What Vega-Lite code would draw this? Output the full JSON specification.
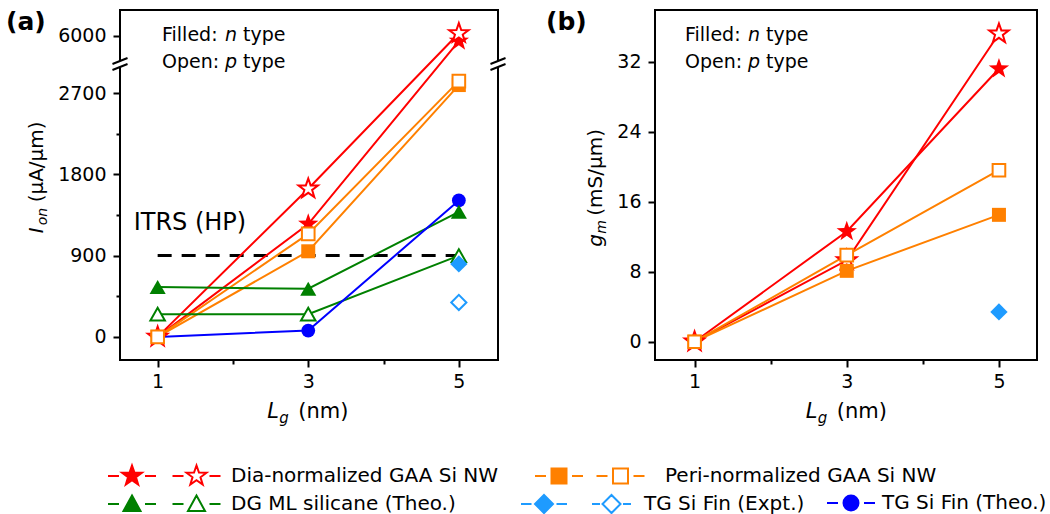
{
  "$schema": "https://vega.github.io/schema/vega-lite/v6.json",
  "padding": {"left": 5, "top": 9, "right": 0, "bottom": 0},
  "spacing": 37,
  "config": {
    "font": "DejaVu Sans",
    "view": {"stroke": "black", "strokeWidth": 2},
    "axis": {"grid": false, "domain": false, "tickWidth": 2, "tickColor": "black", "labelFontSize": 19, "labelColor": "black", "labelFlush": false, "labelOverlap": false, "labelFont": "DejaVu Sans"}
  },
  "data": {"values": [
    {"p": "a", "s": "Dia-n", "g": "Dia-normalized GAA Si NW", "x": 1, "y": 0},
    {"p": "a", "s": "Dia-n", "g": "Dia-normalized GAA Si NW", "x": 3, "y": 1250},
    {"p": "a", "s": "Dia-n", "g": "Dia-normalized GAA Si NW", "x": 5, "y": 5944},
    {"p": "a", "s": "Dia-p", "g": "Dia-normalized GAA Si NW", "x": 1, "y": 0},
    {"p": "a", "s": "Dia-p", "g": "Dia-normalized GAA Si NW", "x": 3, "y": 1641},
    {"p": "a", "s": "Dia-p", "g": "Dia-normalized GAA Si NW", "x": 5, "y": 6030},
    {"p": "a", "s": "Peri-n", "g": "Peri-normalized GAA Si NW", "x": 1, "y": 0},
    {"p": "a", "s": "Peri-n", "g": "Peri-normalized GAA Si NW", "x": 3, "y": 948},
    {"p": "a", "s": "Peri-n", "g": "Peri-normalized GAA Si NW", "x": 5, "y": 2789},
    {"p": "a", "s": "Peri-p", "g": "Peri-normalized GAA Si NW", "x": 1, "y": 0},
    {"p": "a", "s": "Peri-p", "g": "Peri-normalized GAA Si NW", "x": 3, "y": 1141},
    {"p": "a", "s": "Peri-p", "g": "Peri-normalized GAA Si NW", "x": 5, "y": 2833},
    {"p": "a", "s": "DG-n", "g": "DG ML silicane (Theo.)", "x": 1, "y": 552},
    {"p": "a", "s": "DG-n", "g": "DG ML silicane (Theo.)", "x": 3, "y": 533},
    {"p": "a", "s": "DG-n", "g": "DG ML silicane (Theo.)", "x": 5, "y": 1385},
    {"p": "a", "s": "DG-p", "g": "DG ML silicane (Theo.)", "x": 1, "y": 252},
    {"p": "a", "s": "DG-p", "g": "DG ML silicane (Theo.)", "x": 3, "y": 252},
    {"p": "a", "s": "DG-p", "g": "DG ML silicane (Theo.)", "x": 5, "y": 900},
    {"p": "a", "s": "Exp-n", "g": "TG Si Fin (Expt.)", "x": 5, "y": 808},
    {"p": "a", "s": "Exp-p", "g": "TG Si Fin (Expt.)", "x": 5, "y": 381},
    {"p": "a", "s": "Theo-n", "g": "TG Si Fin (Theo.)", "x": 1, "y": 0},
    {"p": "a", "s": "Theo-n", "g": "TG Si Fin (Theo.)", "x": 3, "y": 70},
    {"p": "a", "s": "Theo-n", "g": "TG Si Fin (Theo.)", "x": 5, "y": 1511},
    {"p": "b", "s": "Dia-n", "g": "Dia-normalized GAA Si NW", "x": 1, "y": 0},
    {"p": "b", "s": "Dia-n", "g": "Dia-normalized GAA Si NW", "x": 3, "y": 12.6},
    {"p": "b", "s": "Dia-n", "g": "Dia-normalized GAA Si NW", "x": 5, "y": 31.2},
    {"p": "b", "s": "Dia-p", "g": "Dia-normalized GAA Si NW", "x": 1, "y": 0},
    {"p": "b", "s": "Dia-p", "g": "Dia-normalized GAA Si NW", "x": 3, "y": 9.3},
    {"p": "b", "s": "Dia-p", "g": "Dia-normalized GAA Si NW", "x": 5, "y": 35.2},
    {"p": "b", "s": "Peri-n", "g": "Peri-normalized GAA Si NW", "x": 1, "y": 0},
    {"p": "b", "s": "Peri-n", "g": "Peri-normalized GAA Si NW", "x": 3, "y": 8.1},
    {"p": "b", "s": "Peri-n", "g": "Peri-normalized GAA Si NW", "x": 5, "y": 14.5},
    {"p": "b", "s": "Peri-p", "g": "Peri-normalized GAA Si NW", "x": 1, "y": 0},
    {"p": "b", "s": "Peri-p", "g": "Peri-normalized GAA Si NW", "x": 3, "y": 9.9},
    {"p": "b", "s": "Peri-p", "g": "Peri-normalized GAA Si NW", "x": 5, "y": 19.6},
    {"p": "b", "s": "Exp-n", "g": "TG Si Fin (Expt.)", "x": 5, "y": 3.4}
  ]},
  "hconcat": [
    {
      "width": 378,
      "height": 350,
      "layer": [
        {"data": {"values": [{}]}, "mark": {"type": "rule", "strokeDash": [14, 10], "strokeWidth": 3, "color": "black"},
         "encoding": {"x": {"datum": 1}, "x2": {"datum": 5.12}, "y": {"datum": 900}}},
        {
          "transform": [{"filter": "datum.p == 'a'"}],
          "encoding": {
            "x": {"field": "x", "type": "quantitative",
              "scale": {"domain": [0.5, 5.52], "nice": false, "zero": false},
              "axis": {"title": null, "values": [1, 2, 3, 4, 5], "format": "d", "labelExpr": "datum.value % 2 == 1 ? datum.label : ''", "tickSize": {"condition": {"test": "datum.value % 2 == 0", "value": 4}, "value": 7}, "labelPadding": 5}},
            "y": {"field": "y", "type": "quantitative",
              "scale": {"domain": [-256, 2989, 5722, 6289], "range": [350, 57, 51, 0], "nice": false, "zero": false},
              "axis": {"title": null, "values": [0, 450, 900, 1350, 1800, 2250, 2700, 6000], "format": "d", "labelExpr": "indexof([0, 900, 1800, 2700, 6000], datum.value) >= 0 ? datum.label : ''", "tickSize": {"condition": {"test": "indexof([450, 1350, 2250], datum.value) >= 0", "value": 4}, "value": 7}, "labelPadding": 7}}
          },
          "layer": [
            {"mark": {"type": "line", "strokeWidth": 2},
             "encoding": {"color": {"field": "s", "type": "nominal", "legend": null, "scale": {"domain": ["Dia-n", "Dia-p", "Peri-n", "Peri-p", "DG-n", "DG-p", "Exp-n", "Exp-p", "Theo-n"], "range": ["#ff0000", "#ff0000", "#ff8000", "#ff8000", "#008000", "#008000", "#1e9bff", "#1e9bff", "#0000ff"]}}}},
            {"transform": [{"filter": "datum.s == 'Theo-n'"}], "mark": {"type": "point", "shape": "circle", "size": 190, "filled": true, "opacity": 1},
             "encoding": {"color": {"field": "s", "type": "nominal", "legend": null}}},
            {"transform": [{"filter": "datum.s == 'DG-n'"}], "mark": {"type": "point", "shape": "triangle-up", "size": 260, "filled": true, "opacity": 1},
             "encoding": {"color": {"field": "s", "type": "nominal", "legend": null}}},
            {"transform": [{"filter": "datum.s == 'DG-p'"}], "mark": {"type": "point", "shape": "triangle-up", "size": 210, "filled": false, "fill": "white", "strokeWidth": 2, "opacity": 1},
             "encoding": {"color": {"field": "s", "type": "nominal", "legend": null}}},
            {"transform": [{"filter": "datum.s == 'Exp-n'"}], "mark": {"type": "point", "shape": "diamond", "size": 300, "filled": true, "opacity": 1},
             "encoding": {"color": {"field": "s", "type": "nominal", "legend": null}}},
            {"transform": [{"filter": "datum.s == 'Exp-p'"}], "mark": {"type": "point", "shape": "diamond", "size": 230, "filled": false, "fill": "white", "strokeWidth": 2, "opacity": 1},
             "encoding": {"color": {"field": "s", "type": "nominal", "legend": null}}},
            {"transform": [{"filter": "datum.s == 'Dia-n'"}], "mark": {"type": "point", "shape": "M0,-1L0.235,-0.324L0.951,-0.309L0.38,0.124L0.588,0.809L0,0.4L-0.588,0.809L-0.38,0.124L-0.951,-0.309L-0.235,-0.324Z", "size": 460, "filled": true, "opacity": 1},
             "encoding": {"color": {"field": "s", "type": "nominal", "legend": null}}},
            {"transform": [{"filter": "datum.s == 'Dia-p'"}], "mark": {"type": "point", "shape": "M0,-1L0.235,-0.324L0.951,-0.309L0.38,0.124L0.588,0.809L0,0.4L-0.588,0.809L-0.38,0.124L-0.951,-0.309L-0.235,-0.324Z", "size": 420, "filled": false, "fill": "white", "strokeWidth": 2, "opacity": 1},
             "encoding": {"color": {"field": "s", "type": "nominal", "legend": null}}},
            {"transform": [{"filter": "datum.s == 'Peri-n'"}], "mark": {"type": "point", "shape": "square", "size": 196, "filled": true, "opacity": 1},
             "encoding": {"color": {"field": "s", "type": "nominal", "legend": null}}},
            {"transform": [{"filter": "datum.s == 'Peri-p'"}], "mark": {"type": "point", "shape": "square", "size": 160, "filled": false, "fill": "white", "strokeWidth": 2, "opacity": 1},
             "encoding": {"color": {"field": "s", "type": "nominal", "legend": null}}},
            {"mark": {"type": "point", "filled": true, "opacity": 0},
             "encoding": {
               "shape": {"field": "g", "type": "nominal",
                 "scale": {"domain": ["Dia-normalized GAA Si NW", "Peri-normalized GAA Si NW", "_", "DG ML silicane (Theo.)", "TG Si Fin (Expt.)", "TG Si Fin (Theo.)"],
                   "range": [
                     "M-9.2,0H-8.1M-5.5,0H-4.4M-6.8,-1.05L-6.553,-0.34L-5.801,-0.324L-6.401,0.13L-6.183,0.849L-6.8,0.42L-7.417,0.849L-7.199,0.13L-7.799,-0.324L-7.047,-0.34ZM-2.75,0H-1.65M0.95,0H2.05M-0.35,-1.05L-0.103,-0.34L0.649,-0.324L0.049,0.13L0.267,0.849L-0.35,0.42L-0.967,0.849L-0.749,0.13L-1.349,-0.324L-0.597,-0.34ZM-0.35,-1.05L-0.597,-0.34L-1.349,-0.324L-0.749,0.13L-0.967,0.849L-0.35,0.42L0.267,0.849L0.049,0.13L0.649,-0.324L-0.103,-0.34Z",
                     "M-22.4,0M-9.9,0H-8.8M-6.2,0H-5.1M-8.25,-0.75H-6.75V0.75H-8.25ZM-3.75,0H-2.65M-0.05,0H1.05M-2.1,-0.75H-0.6V0.75H-2.1ZM-2.1,-0.75V0.75H-0.6V-0.75Z",
                     "M0,-1.1L0,1.1",
                     "M-9.2,0H-8.1M-5.5,0H-4.4M-6.8,-0.85L-5.95,0.7L-7.65,0.7ZM-2.75,0H-1.65M0.95,0H2.05M-0.35,-0.85L0.5,0.7L-1.2,0.7ZM-0.35,-0.85L-1.2,0.7L0.5,0.7Z",
                     "M-20.3,0M-9.2,0H-8.15M-5.65,0H-4.6M-6.9,-0.9L-6,0L-6.9,0.9L-7.8,0ZM-2.1,0H-1.3M1,0H1.8M-0.15,-0.9L0.75,0L-0.15,0.9L-1.05,0ZM-0.15,-0.9L-1.05,0L-0.15,0.9L0.75,0Z",
                     "M-2.4,0H-1.3M1.3,0H2.4M0.75,0A0.75,0.75,0,1,1,-0.75,0A0.75,0.75,0,1,1,0.75,0Z"
                   ]},
                 "legend": {"title": null, "orient": "none", "direction": "horizontal", "legendX": 69, "legendY": 455, "columns": 3, "gridAlign": "none", "columnPadding": -93, "rowPadding": 0, "padding": 0, "labelFontSize": 20, "labelFont": "DejaVu Sans", "labelColor": "black", "labelLimit": 600, "labelOffset": 20, "symbolSize": 400, "symbolStrokeWidth": 2, "symbolOpacity": 1, "labelExpr": "datum.label == '_' ? '' : datum.label"}},
               "fill": {"field": "g", "type": "nominal",
                 "scale": {"domain": ["Dia-normalized GAA Si NW", "Peri-normalized GAA Si NW", "_", "DG ML silicane (Theo.)", "TG Si Fin (Expt.)", "TG Si Fin (Theo.)"],
                   "range": ["#ff0000", "#ff8000", "transparent", "#008000", "#1e9bff", "#0000ff"]}},
               "stroke": {"field": "g", "type": "nominal",
                 "scale": {"domain": ["Dia-normalized GAA Si NW", "Peri-normalized GAA Si NW", "_", "DG ML silicane (Theo.)", "TG Si Fin (Expt.)", "TG Si Fin (Theo.)"],
                   "range": ["#ff0000", "#ff8000", "transparent", "#008000", "#1e9bff", "#0000ff"]}}
             }}
          ]
        },
        {"data": {"values": [{}]}, "mark": {"type": "rule", "color": "white", "strokeWidth": 6},
         "encoding": {"x": {"datum": 0.5}, "y": {"datum": 2989}, "y2": {"datum": 5722}}},
        {"data": {"values": [{}]}, "mark": {"type": "rule", "color": "white", "strokeWidth": 6},
         "encoding": {"x": {"datum": 5.52}, "y": {"datum": 2989}, "y2": {"datum": 5722}}},
        {"data": {"values": [{}]}, "mark": {"type": "rule", "color": "black", "strokeWidth": 2},
         "encoding": {"x": {"datum": 0.4}, "x2": {"datum": 0.6}, "y": {"datum": 2956}, "y2": {"datum": 4355}}},
        {"data": {"values": [{}]}, "mark": {"type": "rule", "color": "black", "strokeWidth": 2},
         "encoding": {"x": {"datum": 0.4}, "x2": {"datum": 0.6}, "y": {"datum": 4355}, "y2": {"datum": 5755}}},
        {"data": {"values": [{}]}, "mark": {"type": "rule", "color": "black", "strokeWidth": 2},
         "encoding": {"x": {"datum": 5.42}, "x2": {"datum": 5.62}, "y": {"datum": 2956}, "y2": {"datum": 4355}}},
        {"data": {"values": [{}]}, "mark": {"type": "rule", "color": "black", "strokeWidth": 2},
         "encoding": {"x": {"datum": 5.42}, "x2": {"datum": 5.62}, "y": {"datum": 4355}, "y2": {"datum": 5755}}},
        {"data": {"values": [{}]}, "mark": {"type": "text", "text": "(a)", "fontSize": 25, "fontWeight": "bold", "align": "left", "baseline": "alphabetic", "dx": -114, "dy": 20, "color": "black"},
         "encoding": {"x": {"datum": 0.5}, "y": {"datum": 6289}}},
        {"data": {"values": [{}]}, "mark": {"type": "text", "text": "Filled:", "fontSize": 19, "align": "left", "baseline": "alphabetic", "dx": 42, "dy": 31, "color": "black"},
         "encoding": {"x": {"datum": 0.5}, "y": {"datum": 6289}}},
        {"data": {"values": [{}]}, "mark": {"type": "text", "text": "n", "fontSize": 19, "fontStyle": "italic", "align": "left", "baseline": "alphabetic", "dx": 105, "dy": 31, "color": "black"},
         "encoding": {"x": {"datum": 0.5}, "y": {"datum": 6289}}},
        {"data": {"values": [{}]}, "mark": {"type": "text", "text": "type", "fontSize": 19, "align": "left", "baseline": "alphabetic", "dx": 123, "dy": 31, "color": "black"},
         "encoding": {"x": {"datum": 0.5}, "y": {"datum": 6289}}},
        {"data": {"values": [{}]}, "mark": {"type": "text", "text": "Open:", "fontSize": 19, "align": "left", "baseline": "alphabetic", "dx": 42, "dy": 58, "color": "black"},
         "encoding": {"x": {"datum": 0.5}, "y": {"datum": 6289}}},
        {"data": {"values": [{}]}, "mark": {"type": "text", "text": "p", "fontSize": 19, "fontStyle": "italic", "align": "left", "baseline": "alphabetic", "dx": 105, "dy": 58, "color": "black"},
         "encoding": {"x": {"datum": 0.5}, "y": {"datum": 6289}}},
        {"data": {"values": [{}]}, "mark": {"type": "text", "text": "type", "fontSize": 19, "align": "left", "baseline": "alphabetic", "dx": 123, "dy": 58, "color": "black"},
         "encoding": {"x": {"datum": 0.5}, "y": {"datum": 6289}}},
        {"data": {"values": [{}]}, "mark": {"type": "text", "text": "ITRS (HP)", "fontSize": 24, "align": "left", "baseline": "alphabetic", "dx": -24, "dy": -26, "color": "black"},
         "encoding": {"x": {"datum": 1}, "y": {"datum": 900}}},
        {"data": {"values": [{}]}, "mark": {"type": "text", "text": "L", "fontSize": 21, "fontStyle": "italic", "align": "left", "baseline": "alphabetic", "dx": -41, "dy": 58, "color": "black"},
         "encoding": {"x": {"datum": 3}, "y": {"datum": -256}}},
        {"data": {"values": [{}]}, "mark": {"type": "text", "text": "g", "fontSize": 15, "fontStyle": "italic", "align": "left", "baseline": "alphabetic", "dx": -29, "dy": 63, "color": "black"},
         "encoding": {"x": {"datum": 3}, "y": {"datum": -256}}},
        {"data": {"values": [{}]}, "mark": {"type": "text", "text": "(nm)", "fontSize": 21, "align": "left", "baseline": "alphabetic", "dx": -10, "dy": 58, "color": "black"},
         "encoding": {"x": {"datum": 3}, "y": {"datum": -256}}},
        {"data": {"values": [{}]}, "mark": {"type": "text", "text": "I", "fontSize": 20, "fontStyle": "italic", "angle": 270, "align": "left", "baseline": "alphabetic", "dx": -59, "dy": -77, "color": "black"},
         "encoding": {"x": {"datum": 0.5}, "y": {"datum": 1800}}},
        {"data": {"values": [{}]}, "mark": {"type": "text", "text": "on", "fontSize": 14, "fontStyle": "italic", "angle": 270, "align": "left", "baseline": "alphabetic", "dx": -51, "dy": -73, "color": "black"},
         "encoding": {"x": {"datum": 0.5}, "y": {"datum": 1800}}},
        {"data": {"values": [{}]}, "mark": {"type": "text", "text": "(μA/μm)", "fontSize": 20, "angle": 270, "align": "left", "baseline": "alphabetic", "dx": -28, "dy": -77, "color": "black"},
         "encoding": {"x": {"datum": 0.5}, "y": {"datum": 1800}}}
      ]
    },
    {
      "width": 382,
      "height": 350,
      "layer": [
        {
          "transform": [{"filter": "datum.p == 'b'"}],
          "encoding": {
            "x": {"field": "x", "type": "quantitative",
              "scale": {"domain": [0.48, 5.5], "nice": false, "zero": false},
              "axis": {"title": null, "values": [1, 2, 3, 4, 5], "format": "d", "labelExpr": "datum.value % 2 == 1 ? datum.label : ''", "tickSize": {"condition": {"test": "datum.value % 2 == 0", "value": 4}, "value": 7}, "labelPadding": 5}},
            "y": {"field": "y", "type": "quantitative",
              "scale": {"domain": [-2.09, 37.91], "nice": false, "zero": false},
              "axis": {"title": null, "values": [0, 4, 8, 12, 16, 20, 24, 28, 32, 36], "format": "d", "labelExpr": "datum.value % 8 == 0 ? datum.label : ''", "tickSize": {"condition": {"test": "datum.value % 8 != 0", "value": 4}, "value": 7}, "labelPadding": 7}}
          },
          "layer": [
            {"mark": {"type": "line", "strokeWidth": 2},
             "encoding": {"color": {"field": "s", "type": "nominal", "legend": null}}},
            {"transform": [{"filter": "datum.s == 'Exp-n'"}], "mark": {"type": "point", "shape": "diamond", "size": 300, "filled": true, "opacity": 1},
             "encoding": {"color": {"field": "s", "type": "nominal", "legend": null}}},
            {"transform": [{"filter": "datum.s == 'Dia-n'"}], "mark": {"type": "point", "shape": "M0,-1L0.235,-0.324L0.951,-0.309L0.38,0.124L0.588,0.809L0,0.4L-0.588,0.809L-0.38,0.124L-0.951,-0.309L-0.235,-0.324Z", "size": 460, "filled": true, "opacity": 1},
             "encoding": {"color": {"field": "s", "type": "nominal", "legend": null}}},
            {"transform": [{"filter": "datum.s == 'Dia-p'"}], "mark": {"type": "point", "shape": "M0,-1L0.235,-0.324L0.951,-0.309L0.38,0.124L0.588,0.809L0,0.4L-0.588,0.809L-0.38,0.124L-0.951,-0.309L-0.235,-0.324Z", "size": 420, "filled": false, "fill": "white", "strokeWidth": 2, "opacity": 1},
             "encoding": {"color": {"field": "s", "type": "nominal", "legend": null}}},
            {"transform": [{"filter": "datum.s == 'Peri-n'"}], "mark": {"type": "point", "shape": "square", "size": 196, "filled": true, "opacity": 1},
             "encoding": {"color": {"field": "s", "type": "nominal", "legend": null}}},
            {"transform": [{"filter": "datum.s == 'Peri-p'"}], "mark": {"type": "point", "shape": "square", "size": 160, "filled": false, "fill": "white", "strokeWidth": 2, "opacity": 1},
             "encoding": {"color": {"field": "s", "type": "nominal", "legend": null}}}
          ]
        },
        {"data": {"values": [{}]}, "mark": {"type": "text", "text": "(b)", "fontSize": 25, "fontWeight": "bold", "align": "left", "baseline": "alphabetic", "dx": -109, "dy": 20, "color": "black"},
         "encoding": {"x": {"datum": 0.48}, "y": {"datum": 37.91}}},
        {"data": {"values": [{}]}, "mark": {"type": "text", "text": "Filled:", "fontSize": 19, "align": "left", "baseline": "alphabetic", "dx": 30, "dy": 31, "color": "black"},
         "encoding": {"x": {"datum": 0.48}, "y": {"datum": 37.91}}},
        {"data": {"values": [{}]}, "mark": {"type": "text", "text": "n", "fontSize": 19, "fontStyle": "italic", "align": "left", "baseline": "alphabetic", "dx": 93, "dy": 31, "color": "black"},
         "encoding": {"x": {"datum": 0.48}, "y": {"datum": 37.91}}},
        {"data": {"values": [{}]}, "mark": {"type": "text", "text": "type", "fontSize": 19, "align": "left", "baseline": "alphabetic", "dx": 111, "dy": 31, "color": "black"},
         "encoding": {"x": {"datum": 0.48}, "y": {"datum": 37.91}}},
        {"data": {"values": [{}]}, "mark": {"type": "text", "text": "Open:", "fontSize": 19, "align": "left", "baseline": "alphabetic", "dx": 30, "dy": 58, "color": "black"},
         "encoding": {"x": {"datum": 0.48}, "y": {"datum": 37.91}}},
        {"data": {"values": [{}]}, "mark": {"type": "text", "text": "p", "fontSize": 19, "fontStyle": "italic", "align": "left", "baseline": "alphabetic", "dx": 93, "dy": 58, "color": "black"},
         "encoding": {"x": {"datum": 0.48}, "y": {"datum": 37.91}}},
        {"data": {"values": [{}]}, "mark": {"type": "text", "text": "type", "fontSize": 19, "align": "left", "baseline": "alphabetic", "dx": 111, "dy": 58, "color": "black"},
         "encoding": {"x": {"datum": 0.48}, "y": {"datum": 37.91}}},
        {"data": {"values": [{}]}, "mark": {"type": "text", "text": "L", "fontSize": 21, "fontStyle": "italic", "align": "left", "baseline": "alphabetic", "dx": -41, "dy": 58, "color": "black"},
         "encoding": {"x": {"datum": 3}, "y": {"datum": -2.09}}},
        {"data": {"values": [{}]}, "mark": {"type": "text", "text": "g", "fontSize": 15, "fontStyle": "italic", "align": "left", "baseline": "alphabetic", "dx": -29, "dy": 63, "color": "black"},
         "encoding": {"x": {"datum": 3}, "y": {"datum": -2.09}}},
        {"data": {"values": [{}]}, "mark": {"type": "text", "text": "(nm)", "fontSize": 21, "align": "left", "baseline": "alphabetic", "dx": -10, "dy": 58, "color": "black"},
         "encoding": {"x": {"datum": 3}, "y": {"datum": -2.09}}},
        {"data": {"values": [{}]}, "mark": {"type": "text", "text": "g", "fontSize": 20, "fontStyle": "italic", "angle": 270, "align": "left", "baseline": "alphabetic", "dx": -45, "dy": -53, "color": "black"},
         "encoding": {"x": {"datum": 0.48}, "y": {"datum": 16}}},
        {"data": {"values": [{}]}, "mark": {"type": "text", "text": "m", "fontSize": 14, "fontStyle": "italic", "angle": 270, "align": "left", "baseline": "alphabetic", "dx": -32, "dy": -49, "color": "black"},
         "encoding": {"x": {"datum": 0.48}, "y": {"datum": 16}}},
        {"data": {"values": [{}]}, "mark": {"type": "text", "text": "(mS/μm)", "fontSize": 20, "angle": 270, "align": "left", "baseline": "alphabetic", "dx": -14, "dy": -53, "color": "black"},
         "encoding": {"x": {"datum": 0.48}, "y": {"datum": 16}}}
      ]
    }
  ]
}
